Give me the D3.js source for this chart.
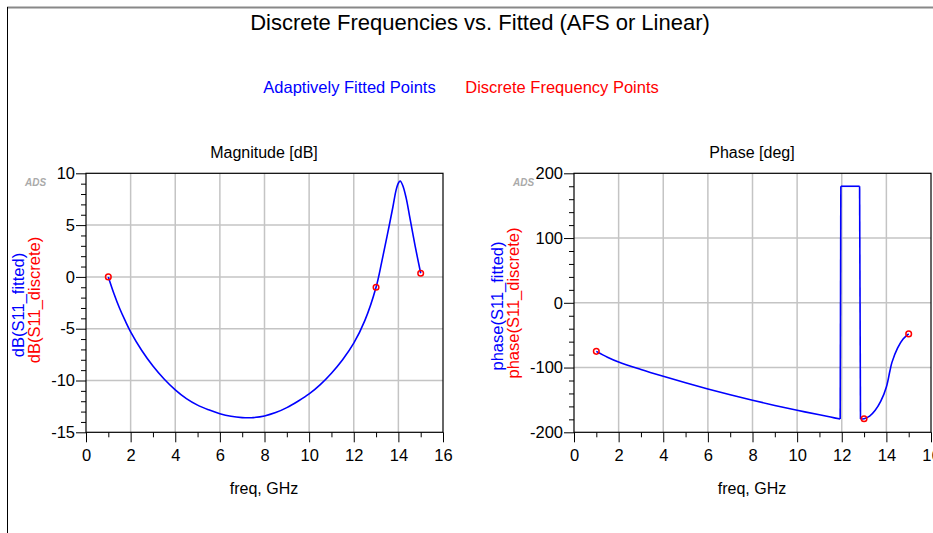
<!DOCTYPE html>
<html>
<head>
<meta charset="utf-8">
<script src="https://cdn.jsdelivr.net/npm/d3@7"></script>
<style>
  body { margin: 0; background: #fff; }
  svg { display: block; font-family: "Liberation Sans", Arial, sans-serif; }
</style>
</head>
<body>
<svg id="chart" width="933" height="533"></svg>
<script>
// magnitude, fitted curve (GHz, dB)
const magFreq = [1.0, 1.25, 1.5, 1.75, 2.0, 2.5, 3.0, 3.5, 4.0, 4.5, 5.0, 5.5, 6.0, 6.5, 7.0, 7.3, 7.5, 8.0, 8.5, 9.0, 9.5, 10.0, 10.5, 11.0, 11.5, 12.0, 12.5, 13.0, 13.25, 13.5, 13.75, 13.9, 14.0, 14.08, 14.2, 14.35, 14.5, 14.75, 15.0];
const magFit  = [0.0, -1.6, -3.0, -4.2, -5.3, -7.1, -8.6, -9.85, -10.9, -11.75, -12.38, -12.83, -13.2, -13.45, -13.58, -13.6, -13.58, -13.42, -13.1, -12.62, -12.0, -11.3, -10.4, -9.3, -8.0, -6.4, -4.2, -1.0, 1.4, 4.0, 6.7, 8.4, 9.05, 9.25, 8.8, 7.6, 5.9, 3.0, 0.35];
// phase, fitted curve (GHz, deg)
const phFreq = [1.0, 1.5, 2.0, 3.0, 4.0, 5.0, 6.0, 7.0, 8.0, 9.0, 10.0, 11.0, 11.5, 11.93, 11.96, 12.4, 12.8, 12.84, 13.0, 13.25, 13.5, 13.75, 14.0, 14.16, 14.25, 14.5, 14.75, 15.0];
const phFit  = [-75, -84, -91.5, -103, -113.5, -123.5, -133, -142, -150.5, -158.5, -166, -173, -176.5, -179.5, 180, 180, 180, -179.5, -179, -175, -166, -152, -130, -105, -92, -70, -56, -48];
// discrete frequency points
const discFreq = [1, 13, 15];
const discMag  = [0.0, -1.0, 0.35];
const discPh   = [-75, -179, -48];

const magTicks = [-15, -10, -5, 0, 5, 10];
const phTicks  = [-200, -100, 0, 100, 200];
const freqTicks = [0, 2, 4, 6, 8, 10, 12, 14, 16];

const svg = d3.select("#chart");

// outer frame
svg.append("line").attr("x1", 7).attr("x2", 933).attr("y1", 7.5).attr("y2", 7.5)
  .attr("stroke", "#888").attr("stroke-width", 2);
svg.append("line").attr("x1", 7.5).attr("x2", 7.5).attr("y1", 7).attr("y2", 533)
  .attr("stroke", "#000").attr("stroke-width", 1);

svg.append("text").attr("x", 480).attr("y", 30).attr("text-anchor", "middle")
  .attr("font-size", 22).text("Discrete Frequencies vs. Fitted (AFS or Linear)");

svg.append("text").attr("x", 349.5).attr("y", 93).attr("text-anchor", "middle")
  .attr("font-size", 16.5).attr("fill", "#0000ff").text("Adaptively Fitted Points");
svg.append("text").attr("x", 562).attr("y", 93).attr("text-anchor", "middle")
  .attr("font-size", 16.5).attr("fill", "#ff0000").text("Discrete Frequency Points");

function panel(opt) {
  const x = d3.scaleLinear().domain([0, 16]).range([opt.left, opt.left + 357]);
  const y = d3.scaleLinear().domain(opt.ydomain).range([432.3, 173.3]);
  const g = svg.append("g");

  // grid
  g.selectAll(".gx").data(freqTicks.slice(1, -1)).join("line")
    .attr("x1", d => x(d)).attr("x2", d => x(d)).attr("y1", y.range()[0]).attr("y2", y.range()[1])
    .attr("stroke", "#c4c4c4").attr("stroke-width", 1.5);
  g.selectAll(".gy").data(opt.yticks.slice(1, -1)).join("line")
    .attr("y1", d => y(d)).attr("y2", d => y(d)).attr("x1", x.range()[0]).attr("x2", x.range()[1])
    .attr("stroke", "#c4c4c4").attr("stroke-width", 1.5);

  // minor ticks
  g.append("g").attr("transform", `translate(0,${y.range()[0]})`)
    .call(d3.axisBottom(x).tickValues(d3.range(1, 16, 2)).tickSize(5).tickFormat("").tickSizeOuter(0))
    .call(a => a.select(".domain").remove());
  g.append("g").attr("transform", `translate(${x.range()[0]},0)`)
    .call(d3.axisLeft(y).tickValues(opt.minor).tickSize(5).tickFormat("").tickSizeOuter(0))
    .call(a => a.select(".domain").remove());

  // major axes (plain hyphen minus like the original)
  const fmt = d => String(d);
  const xa = g.append("g").attr("transform", `translate(0,${y.range()[0]})`)
    .call(d3.axisBottom(x).tickValues(freqTicks).tickFormat(fmt).tickSize(10).tickPadding(7).tickSizeOuter(0));
  const ya = g.append("g").attr("transform", `translate(${x.range()[0]},0)`)
    .call(d3.axisLeft(y).tickValues(opt.yticks).tickFormat(fmt).tickSize(10).tickPadding(1).tickSizeOuter(0));
  [xa, ya].forEach(a => {
    a.selectAll("text").attr("font-size", 16.5).attr("font-family", "Liberation Sans, Arial, sans-serif").attr("fill", "#000");
    a.select(".domain").remove();
  });

  // plot box
  g.append("rect").attr("x", x.range()[0]).attr("y", y.range()[1])
    .attr("width", x.range()[1] - x.range()[0]).attr("height", y.range()[0] - y.range()[1])
    .attr("fill", "none").attr("stroke", "#000").attr("stroke-width", 1.2);

  // fitted line: smooth runs, straight jumps where the phase wraps
  const pts = opt.fx.map((f, i) => [f, opt.fy[i]]);
  const runs = [[pts[0]]];
  for (let i = 1; i < pts.length; i++) {
    if (Math.abs(pts[i][1] - pts[i - 1][1]) > 180) runs.push([]);
    runs[runs.length - 1].push(pts[i]);
  }
  const smooth = d3.line().x(d => x(d[0])).y(d => y(d[1])).curve(d3.curveCatmullRom.alpha(0.5));
  const straight = d3.line().x(d => x(d[0])).y(d => y(d[1]));
  runs.forEach((r, k) => {
    g.append("path").datum(r).attr("d", smooth)
      .attr("fill", "none").attr("stroke", "#0000ff").attr("stroke-width", 1.6);
    if (k > 0) {
      g.append("path").datum([runs[k - 1][runs[k - 1].length - 1], r[0]]).attr("d", straight)
        .attr("fill", "none").attr("stroke", "#0000ff").attr("stroke-width", 1.6);
    }
  });

  // discrete points
  g.selectAll(".pt").data(discFreq.map((f, i) => [f, opt.dy[i]])).join("circle")
    .attr("cx", d => x(d[0])).attr("cy", d => y(d[1])).attr("r", 2.8)
    .attr("fill", "none").attr("stroke", "#ff0000").attr("stroke-width", 1.5);

  // titles
  const cx = opt.left + 178;
  svg.append("text").attr("x", cx).attr("y", 158).attr("text-anchor", "middle")
    .attr("font-size", 16).text(opt.title);
  svg.append("text").attr("x", cx).attr("y", 494).attr("text-anchor", "middle")
    .attr("font-size", 16).text("freq, GHz");

  // y labels
  svg.append("text").attr("transform", `translate(${opt.labX},${opt.labY1}) rotate(-90)`)
    .attr("text-anchor", "middle").attr("font-size", 16.5).attr("fill", "#0000ff").text(opt.lab1);
  svg.append("text").attr("transform", `translate(${opt.labX + 16},${opt.labY2}) rotate(-90)`)
    .attr("text-anchor", "middle").attr("font-size", 16.5).attr("fill", "#ff0000").text(opt.lab2);

  // watermark
  svg.append("text").attr("x", opt.left - 61).attr("y", 186).attr("font-size", 10)
    .attr("font-style", "italic").attr("font-weight", "bold").attr("fill", "#aaa").text("ADS");
}

panel({
  left: 86, ydomain: [-15, 10], yticks: magTicks,
  minor: d3.range(-14, 10, 1).filter(v => v % 5 !== 0),
  fx: magFreq, fy: magFit, dy: discMag,
  title: "Magnitude [dB]", lab1: "dB(S11_fitted)", lab2: "dB(S11_discrete)",
  labX: 24, labY1: 305, labY2: 300
});
panel({
  left: 574, ydomain: [-200, 200], yticks: phTicks,
  minor: d3.range(-180, 200, 20).filter(v => v % 100 !== 0),
  fx: phFreq, fy: phFit, dy: discPh,
  title: "Phase [deg]", lab1: "phase(S11_fitted)", lab2: "phase(S11_discrete)",
  labX: 503, labY1: 306, labY2: 303
});
</script>
</body>
</html>
